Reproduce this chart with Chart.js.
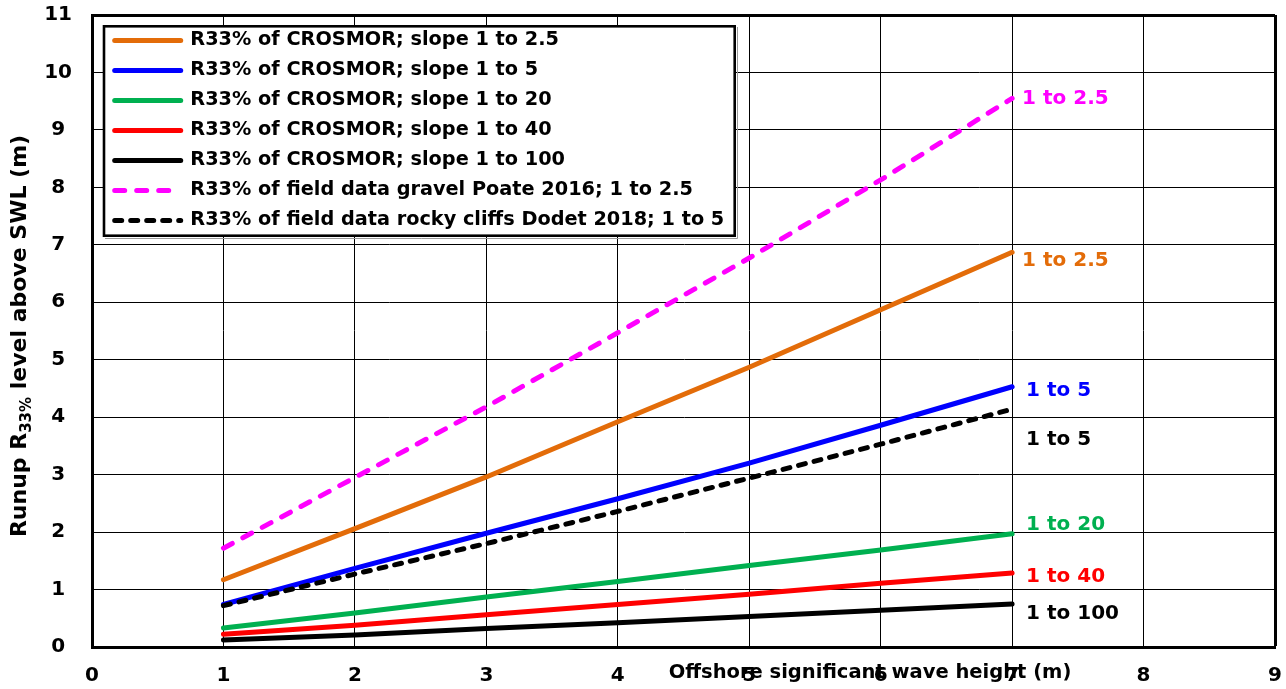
<!DOCTYPE html>
<html>
<head>
<meta charset="utf-8">
<title>Runup R33% vs offshore wave height</title>
<script src="https://cdn.jsdelivr.net/npm/chart.js@4.4.1/dist/chart.umd.min.js"></script>
<style>
  html, body { margin: 0; padding: 0; background: #ffffff; }
  #wrap { width: 1286px; height: 689px; }
</style>
</head>
<body>
<div id="wrap"><canvas id="runup" width="1286" height="689"></canvas></div>
<script>
// Offshore significant wave height Hs (m)
const waveHeights = [1, 2, 3, 4, 5, 6, 7];

// R33% runup level above SWL (m), CROSMOR model runs per beach slope
const crosmorSlope2_5 = [1.17, 2.06, 2.96, 3.92, 4.87, 5.87, 6.87];
const crosmorSlope5   = [0.74, 1.37, 1.98, 2.58, 3.20, 3.86, 4.53];
const crosmorSlope20  = [0.33, 0.59, 0.87, 1.14, 1.42, 1.69, 1.97];
const crosmorSlope40  = [0.22, 0.38, 0.56, 0.74, 0.92, 1.11, 1.29];
const crosmorSlope100 = [0.12, 0.21, 0.32, 0.42, 0.53, 0.64, 0.75];

// R33% from field data fits
const poateGravel2_5 = [1.72, 2.95, 4.18, 5.47, 6.77, 8.13, 9.55];
const dodetCliffs5   = [0.72, 1.27, 1.80, 2.36, 2.94, 3.53, 4.14];

const seriesNames = [
  'R33% of CROSMOR; slope 1 to 2.5',
  'R33% of CROSMOR; slope 1 to 5',
  'R33% of CROSMOR; slope 1 to 20',
  'R33% of CROSMOR; slope 1 to 40',
  'R33% of CROSMOR; slope 1 to 100',
  'R33% of field data gravel Poate 2016; 1 to 2.5',
  'R33% of field data rocky cliffs Dodet 2018; 1 to 5'
];
const seriesValues = [crosmorSlope2_5, crosmorSlope5, crosmorSlope20, crosmorSlope40,
                      crosmorSlope100, poateGravel2_5, dodetCliffs5];
const endLabels = ['1 to 2.5', '1 to 5', '1 to 20', '1 to 40', '1 to 100', '1 to 2.5', '1 to 5'];

// Axis ranges
const xRange = [0, 9];
const yRange = [0, 11];

const FONT = '"DejaVu Sans"';
const seriesColors = ['#E36C09', '#0000FF', '#00B050', '#FF0000', '#000000', '#FF00FF', '#000000'];
const seriesDash = [[], [], [], [], [], [10, 12], [7, 9]];
// pixel nudges for the end-of-line slope labels
const endLabelNudge = [[10, 9], [14, 4], [14, -9], [14, 4], [14, 10], [10, 0], [14, 31]];

const datasets = seriesValues.map((vals, i) => ({
  label: seriesNames[i],
  data: waveHeights.map((h, j) => ({ x: h, y: vals[j] })),
  borderColor: seriesColors[i],
  backgroundColor: seriesColors[i],
  borderWidth: 5,
  borderDash: seriesDash[i],
  borderCapStyle: 'round',
  borderJoinStyle: 'round',
  pointRadius: 0,
  pointHoverRadius: 0,
  tension: 0,
  fill: false,
  order: 10 - i
}));

const edgeWidth = (edgeValues) => (ctx) =>
  (ctx.tick && edgeValues.includes(ctx.tick.value)) ? 3 : 1;

const overlayPlugin = {
  id: 'runupOverlay',
  afterLayout(chart) {
    const lg = chart.legend;
    if (!lg) return;
    lg.left = 104; lg.right = 740;
    lg.top = 20.1; lg.bottom = 270;
    lg.width = lg.right - lg.left; lg.height = lg.bottom - lg.top;
    if (!lg._framed) {
      const baseDraw = lg.draw;
      lg.draw = function (area) {
        const c = this.ctx;
        c.save();
        c.fillStyle = '#ffffff';
        c.fillRect(103, 25, 633, 212);
        c.strokeStyle = '#9a9a9a';
        c.lineWidth = 1;
        c.beginPath();
        c.moveTo(737.5, 27); c.lineTo(737.5, 238.5); c.lineTo(105, 238.5);
        c.stroke();
        c.strokeStyle = '#000000';
        c.lineWidth = 2.6;
        c.strokeRect(104, 26.3, 630.7, 209.4);
        c.restore();
        baseDraw.call(this, area);
      };
      lg._framed = true;
    }
  },
  afterDraw(chart) {
    const { ctx } = chart;
    const xs = chart.scales.x, ys = chart.scales.y;
    ctx.save();
    // slope labels at the end of each line
    ctx.font = `bold 20px ${FONT}`;
    ctx.textBaseline = 'middle';
    ctx.textAlign = 'left';
    seriesValues.forEach((vals, i) => {
      const n = vals.length - 1;
      const px = xs.getPixelForValue(waveHeights[n]) + endLabelNudge[i][0];
      const py = ys.getPixelForValue(vals[n]) + endLabelNudge[i][1];
      ctx.fillStyle = seriesColors[i];
      ctx.fillText(endLabels[i], px, py);
    });

    // x axis title
    ctx.fillStyle = '#000000';
    ctx.font = `bold 19.5px ${FONT}`;
    ctx.textAlign = 'center';
    ctx.fillText('Offshore significant wave height (m)', 870, 673);

    // y axis title with subscript
    const a = 'Runup R', sub = '33%', b = ' level above SWL (m)';
    const mainFont = `bold 22px ${FONT}`, subFont = `bold 15px ${FONT}`;
    ctx.font = mainFont; const wa = ctx.measureText(a).width, wb = ctx.measureText(b).width;
    ctx.font = subFont; const ws = ctx.measureText(sub).width;
    const total = wa + ws + wb;
    ctx.translate(20, 336);
    ctx.rotate(-Math.PI / 2);
    ctx.textAlign = 'left';
    let cx = -total / 2;
    ctx.font = mainFont; ctx.fillText(a, cx, 0); cx += wa;
    ctx.font = subFont; ctx.fillText(sub, cx, 7); cx += ws;
    ctx.font = mainFont; ctx.fillText(b, cx, 0);
    ctx.restore();
  }
};

new Chart(document.getElementById('runup'), {
  type: 'line',
  data: { datasets },
  options: {
    responsive: false,
    animation: false,
    devicePixelRatio: 1,
    layout: { padding: { left: 0, right: 11, top: 15, bottom: 0 } },
    plugins: {
      tooltip: { enabled: false },
      title: { display: false },
      legend: {
        display: true,
        position: 'chartArea',
        align: 'start',
        labels: {
          sort: (a, b) => a.datasetIndex - b.datasetIndex,
          generateLabels(chart) {
            const items = Chart.defaults.plugins.legend.labels.generateLabels(chart);
            items.forEach((it) => {
              const ds = chart.data.datasets[it.datasetIndex];
              it.lineDash = ds.borderDash;
              it.lineDashOffset = 0;
              it.lineWidth = ds.borderWidth;
              it.lineCap = 'round';
              it.strokeStyle = ds.borderColor;
            });
            return items;
          },
          usePointStyle: true,
          pointStyle: 'line',
          pointStyleWidth: 66,
          padding: 10.7,
          color: '#000000',
          font: { family: 'DejaVu Sans', size: 19.3, weight: 'bold' }
        }
      }
    },
    scales: {
      x: {
        type: 'linear',
        min: xRange[0],
        max: xRange[1],
        afterFit(scale) {
          scale.height = 42;
          scale.paddingLeft = 0; scale.paddingRight = 0;
        },
        ticks: {
          stepSize: 1,
          autoSkip: false,
          maxRotation: 0,
          padding: 17,
          color: '#000000',
          font: { family: 'DejaVu Sans', size: 20, weight: 'bold' }
        },
        grid: { color: '#000000', lineWidth: edgeWidth([9]), drawTicks: false },
        border: { display: true, color: '#000000', width: 3 },
        title: { display: false }
      },
      y: {
        type: 'linear',
        min: yRange[0],
        max: yRange[1],
        afterFit(scale) {
          scale.width = 92;
          scale.paddingTop = 0; scale.paddingBottom = 0;
        },
        ticks: {
          stepSize: 1,
          crossAlign: 'center',
          padding: 20,
          color: '#000000',
          font: { family: 'DejaVu Sans', size: 20, weight: 'bold' }
        },
        grid: { color: '#000000', lineWidth: edgeWidth([11]), drawTicks: false },
        border: { display: true, color: '#000000', width: 3 },
        title: { display: false }
      }
    }
  },
  plugins: [overlayPlugin]
});
</script>
</body>
</html>
